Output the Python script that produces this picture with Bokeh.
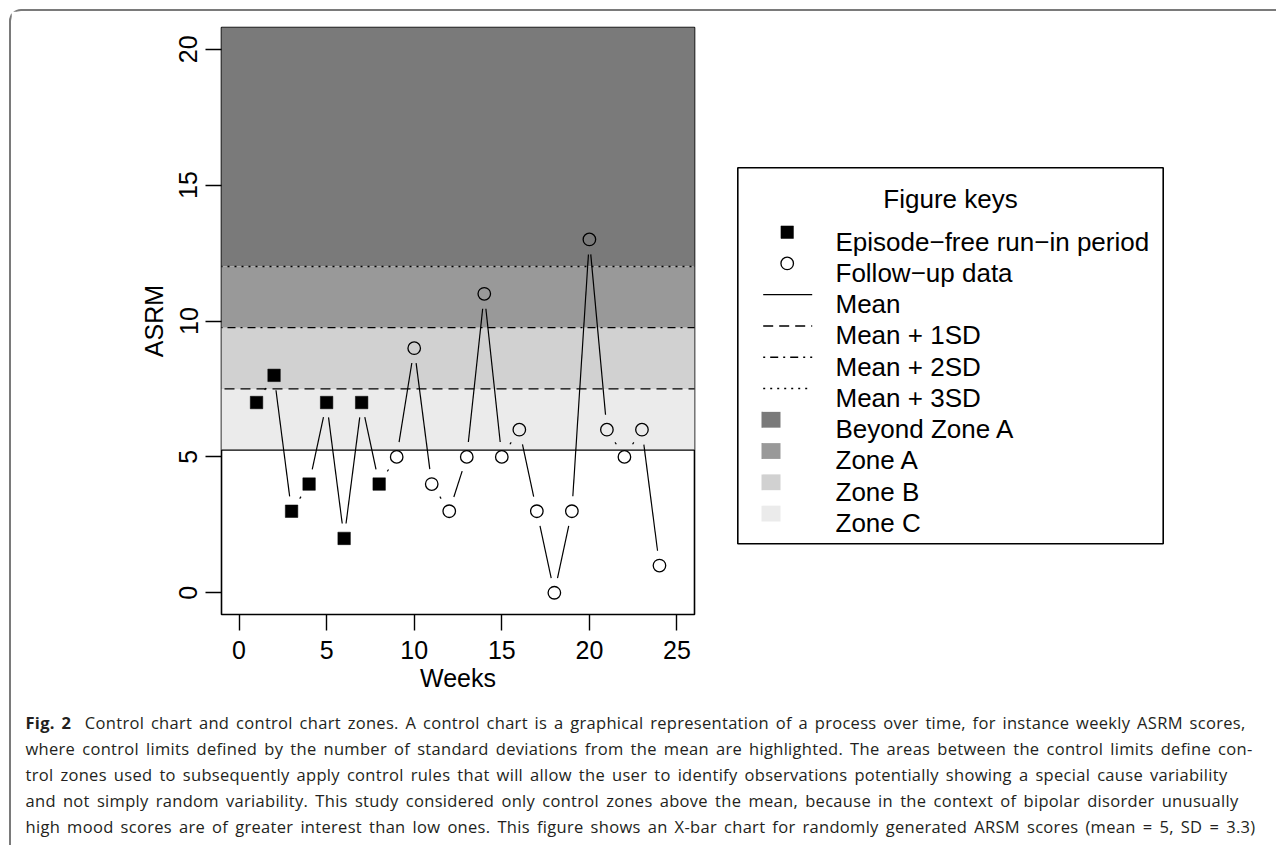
import numpy as np
from bokeh.plotting import figure
from bokeh.models import Range1d, FixedTicker, Div
from bokeh.layouts import column, row
from bokeh.embed import file_html
from bokeh.resources import INLINE
from bokeh.core.properties import value

# ---------------- data ----------------
weeks = list(range(1, 25))
asrm = [7, 8, 3, 4, 7, 2, 7, 4, 5, 9, 4, 3, 5, 11, 5, 6, 3, 0, 3, 13, 6, 5, 6, 1]
run_in_n = 8  # episode-free run-in period (weeks 1-8)
x_ticks = [0, 5, 10, 15, 20, 25]
y_ticks = [0, 5, 10, 15, 20]
zone_names = ["Beyond Zone A", "Zone A", "Zone B", "Zone C"]
zone_colors = ["#7A7A7A", "#999999", "#D1D1D1", "#EBEBEB"]
legend_title = "Figure keys"
legend_labels = ["Episode\u2212free run\u2212in period", "Follow\u2212up data", "Mean",
                 "Mean + 1SD", "Mean + 2SD", "Mean + 3SD",
                 "Beyond Zone A", "Zone A", "Zone B", "Zone C"]
line_dashes = ["solid", "10 6", "2 5 8 5", "2 5"]
caption_lines = [
    "Control chart and control chart zones. A control chart is a graphical representation of a process over time, for instance weekly ASRM scores,",
    "where control limits defined by the number of standard deviations from the mean are highlighted. The areas between the control limits define con-",
    "trol zones used to subsequently apply control rules that will allow the user to identify observations potentially showing a special cause variability",
    "and not simply random variability. This study considered only control zones above the mean, because in the context of bipolar disorder unusually",
    "high mood scores are of greater interest than low ones. This figure shows an X-bar chart for randomly generated ARSM scores (mean = 5, SD = 3.3)",
]
caption_widths = [1220, 1227, 1202, 1213, 1230]

run_in = np.array(asrm[:run_in_n], dtype=float)
mean = run_in.mean()
sd = run_in.std(ddof=1)
limits = [mean + k * sd for k in range(4)]

# ---------------- main plot ----------------
FW, FH = 473, 587
MBL, MBR, MBT, MBB = 210, 26, 16, 86
X0, X1 = -1.0, 26.0
Y0, Y1 = -0.8, 20.8
FONT = "Liberation Sans"

p = figure(width=MBL + FW + MBR, height=MBT + FH + MBB,
           x_range=Range1d(X0, X1), y_range=Range1d(Y0, Y1),
           output_backend="svg", toolbar_location=None,
           min_border_left=MBL, min_border_right=MBR,
           min_border_top=MBT, min_border_bottom=MBB,
           x_axis_label="Weeks", y_axis_label="ASRM")
p.grid.visible = False
p.outline_line_color = "black"
p.outline_line_width = 1.6
p.background_fill_color = "white"
p.border_fill_color = "white"

# zones
zb = [limits[3], limits[2], limits[1], limits[0]]
zt = [1000, limits[3], limits[2], limits[1]]
p.quad(left=-1000, right=1000, bottom=zb, top=zt, fill_color=zone_colors, line_color=None)

# control lines
for lim, dash in zip(limits, line_dashes):
    p.segment(x0=-1000, x1=1000, y0=lim, y1=lim, line_color="black",
              line_width=1.4 if dash == "solid" else 1.3, line_dash=dash)

# R type="b" connecting segments (gap around each point)
xs = np.array(weeks, dtype=float)
ys = np.array(asrm, dtype=float)
sx = FW / (X1 - X0)
sy = FH / (Y1 - Y0)
gap = 15.0
s0x, s0y, s1x, s1y = [], [], [], []
for i in range(len(xs) - 1):
    dx, dy = xs[i + 1] - xs[i], ys[i + 1] - ys[i]
    L = np.hypot(dx * sx, dy * sy)
    if L > 2 * gap:
        f = gap / L
        s0x.append(xs[i] + f * dx); s0y.append(ys[i] + f * dy)
        s1x.append(xs[i + 1] - f * dx); s1y.append(ys[i + 1] - f * dy)
p.segment(x0=s0x, y0=s0y, x1=s1x, y1=s1y, line_color="black", line_width=1.2)

# points
p.scatter(x=weeks[:run_in_n], y=asrm[:run_in_n], marker="square", size=12.5,
          fill_color="black", line_color="black", line_width=0.5)
p.scatter(x=weeks[run_in_n:], y=asrm[run_in_n:], marker="circle", size=12.5,
          fill_color=None, line_color="black", line_width=1.3)

p.xaxis.ticker = FixedTicker(ticks=x_ticks)
p.yaxis.ticker = FixedTicker(ticks=y_ticks)
for ax in (p.xaxis[0], p.yaxis[0]):
    ax.axis_line_color = None
    ax.major_tick_out = 16
    ax.major_tick_in = 0
    ax.minor_tick_out = 0
    ax.minor_tick_in = 0
    ax.major_tick_line_width = 1.4
    ax.major_tick_line_color = "black"
    ax.major_label_text_font = FONT
    ax.major_label_text_font_size = "25px"
    ax.major_label_text_color = "black"
    ax.axis_label_text_font = FONT
    ax.axis_label_text_font_size = "25px"
    ax.axis_label_text_font_style = "normal"
    ax.axis_label_text_color = "black"
p.xaxis.major_label_standoff = 10
p.xaxis.axis_label_standoff = 2
p.yaxis.major_label_orientation = "vertical"
p.yaxis.major_label_standoff = 8
p.yaxis.axis_label_standoff = 9

# ---------------- legend (drawn as its own small figure) ----------------
# local coordinates = page coordinates minus the figure's page origin
OX, OY = 720.0, 11.0
LW, LH = 550, MBT + FH + MBB
lg = figure(width=LW, height=LH, x_range=Range1d(0, LW), y_range=Range1d(MBT + FH, MBT),
            output_backend="svg", toolbar_location=None,
            min_border_left=0, min_border_right=0, min_border_top=MBT, min_border_bottom=MBB,
            x_axis_location=None, y_axis_location=None)
lg.grid.visible = False
lg.outline_line_color = None
lg.background_fill_color = "white"
lg.border_fill_color = "white"

bl, br, bt, bb = 737.3 - OX, 1162.7 - OX, 167.3 - OY, 543.3 - OY
lg.quad(left=bl, right=br, top=bt, bottom=bb, fill_color=None,
        line_color="black", line_width=1.6)
lg.text(x=[(bl + br) / 2], y=[189.5 + 9.3 - OY], text=[legend_title],
        text_font=value(FONT), text_font_size="26px", text_align="center",
        text_baseline="alphabetic", text_color="black")

row0, dy_row = 231.7 - OY, 31.26
centers = [row0 + i * dy_row for i in range(len(legend_labels))]
lg.text(x=[835 - OX] * len(legend_labels), y=[c + 9.3 for c in centers], text=legend_labels,
        text_font=value(FONT), text_font_size="26px", text_align="left",
        text_baseline="alphabetic", text_color="black")
sym_x = 786.7 - OX
lg.scatter(x=[sym_x], y=[centers[0]], marker="square", size=12.5,
           fill_color="black", line_color="black", line_width=0.5)
lg.scatter(x=[sym_x], y=[centers[1]], marker="circle", size=12.5,
           fill_color=None, line_color="black", line_width=1.3)
for k, dash in enumerate(line_dashes):
    lg.segment(x0=[762.7 - OX], x1=[811.7 - OX], y0=[centers[2 + k]], y1=[centers[2 + k]],
               line_color="black", line_width=1.3, line_dash=dash)
lg.quad(left=[761 - OX] * 4, right=[780 - OX] * 4,
        top=[c - 7.9 for c in centers[6:]], bottom=[c + 7.9 for c in centers[6:]],
        fill_color=zone_colors, line_color=None)

# ---------------- caption ----------------
parts = []
for i, (txt, w) in enumerate(zip(caption_lines, caption_widths)):
    prefix = '<b style="font-weight:700;">Fig. 2</b>&nbsp; ' if i == 0 else ''
    parts.append('<div style="width:%dpx;white-space:nowrap;text-align:justify;'
                 'text-align-last:justify;">%s%s</div>' % (w, prefix, txt))
html = ('<div style="padding:5px 0 0 9.5px;font-family:\'Open Sans\',sans-serif;'
        'font-size:16.5px;letter-spacing:0.3px;line-height:26px;color:#231f20;">'
        + "".join(parts) + '</div>')
cap = Div(text=html, width=1255, height=136, styles={"overflow": "hidden"})

layout = column(row(p, lg), cap,
                styles={"border-top": "2px solid #7a7a7a", "border-left": "2px solid #7a7a7a",
                        "border-top-left-radius": "12px", "margin": "9px 0 0 9px"})

open("out.html", "w").write(file_html(layout, INLINE))
